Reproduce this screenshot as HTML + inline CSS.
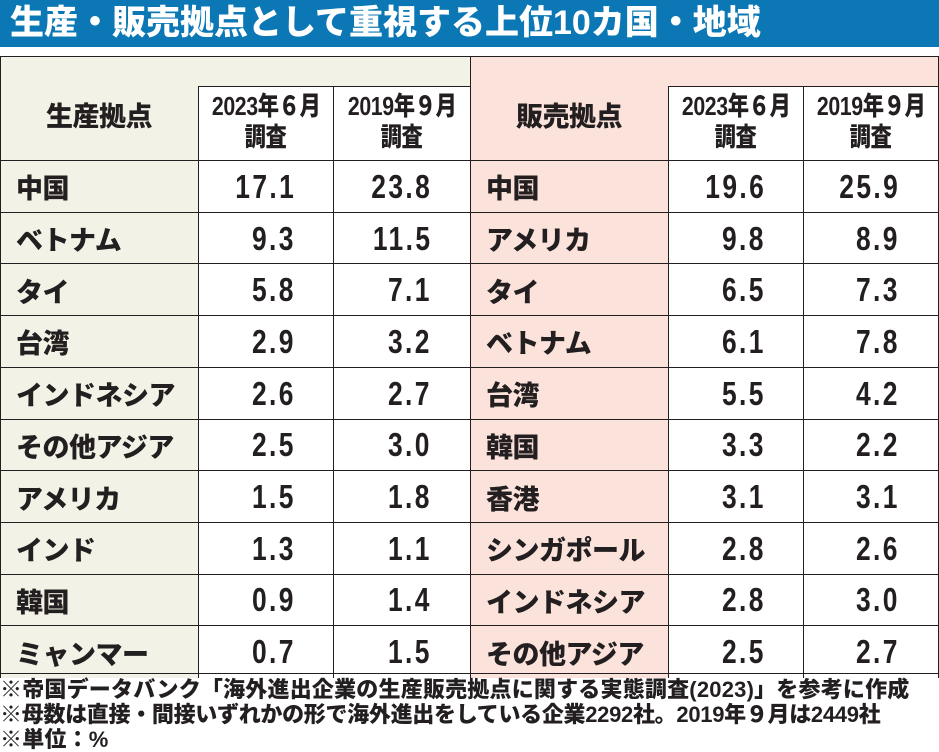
<!DOCTYPE html>
<html><head><meta charset="utf-8"><style>
body{margin:0;width:939px;height:749px;background:#fff;position:relative;overflow:hidden;font-family:"Liberation Sans","Noto Sans CJK JP",sans-serif;font-weight:bold;color:#231f20}
.title{position:absolute;left:0;top:0;width:939px;height:47px;background:#0b78b5;color:#fff;font-size:34px;line-height:47px;padding-left:10px;box-sizing:border-box;font-weight:900;letter-spacing:0px;white-space:nowrap}
.c{position:absolute;box-sizing:border-box}
.lab{font-size:27px;font-weight:900;padding-left:15px;display:flex;align-items:center;white-space:nowrap;letter-spacing:-0.5px}
.num{font-size:33px;display:flex;align-items:center;justify-content:flex-end}
.num span{display:inline-block;transform:scaleX(0.8);transform-origin:right center;letter-spacing:3px}
.hd{font-size:26px;line-height:31px;text-align:center;font-weight:900;white-space:nowrap;overflow:visible}
.hd span{display:inline-block;transform:scaleX(0.82);letter-spacing:-0.5px}
.foot{position:absolute;left:0;font-size:22px;font-weight:900;white-space:nowrap;letter-spacing:0.2px;line-height:25px}
</style></head><body>
<div class="title">生産・販売拠点として重視する上位10カ国・地域</div>
<div id="t"></div>
<div class="foot" style="top:677px">※帝国データバンク「海外進出企業の生産販売拠点に関する実態調査(2023)」を参考に作成</div>
<div class="foot" style="top:702px;letter-spacing:-0.3px">※母数は直接・間接いずれかの形で海外進出をしている企業2292社。2019年９月は2449社</div>
<div class="foot" style="top:727px">※単位：%</div>
<script>
(function(){
const L=[["中国","17.1","23.8"],["ベトナム","9.3","11.5"],["タイ","5.8","7.1"],["台湾","2.9","3.2"],["インドネシア","2.6","2.7"],["その他アジア","2.5","3.0"],["アメリカ","1.5","1.8"],["インド","1.3","1.1"],["韓国","0.9","1.4"],["ミャンマー","0.7","1.5"]];
const R=[["中国","19.6","25.9"],["アメリカ","9.8","8.9"],["タイ","6.5","7.3"],["ベトナム","6.1","7.8"],["台湾","5.5","4.2"],["韓国","3.3","2.2"],["香港","3.1","3.1"],["シンガポール","2.8","2.6"],["インドネシア","2.8","3.0"],["その他アジア","2.5","2.7"]];
let h="";
const T0=56,hh=104,rh=51.7,bd="1.5px solid #231f20";
function blk(x0,bg,name,data,last){
 h+=`<div class="c" style="left:${x0}px;top:${T0}px;width:${last?469:470}px;height:${hh}px;background:${bg};border-top:${bd};border-left:${bd};${last?'border-right:'+bd+';':''}"></div>`;
 h+=`<div class="c lab" style="left:${x0}px;top:${T0}px;width:198px;height:${hh}px;justify-content:center;padding:12px 0 0 0">${name}</div>`;
 for(let k=0;k<2;k++){
  const x=x0+198+(k?135:0),ww=k?(last?136:137):135;
  h+=`<div class="c hd" style="left:${x}px;top:86px;width:${ww}px;height:${hh-30}px;background:#fff;border-left:${bd};border-top:${bd};${k&&last?'border-right:'+bd+';':''}padding-top:4px"><span>${k?'2019年９月':'2023年６月'}</span><br><span>調査</span></div>`;
 }
 data.forEach((d,i)=>{
  const y=T0+hh+i*rh;
  h+=`<div class="c lab" style="left:${x0}px;top:${y}px;width:198px;height:${rh+1}px;background:${bg};border-top:${bd};border-left:${bd}">${d[0]}</div>`;
  h+=`<div class="c num" style="left:${x0+198}px;top:${y}px;width:135px;height:${rh+1}px;border-top:${bd};border-left:${bd};padding-right:37px"><span>${d[1]}</span></div>`;
  h+=`<div class="c num" style="left:${x0+333}px;top:${y}px;width:${last?136:137}px;height:${rh+1}px;border-top:${bd};border-left:${bd};${last?'border-right:'+bd+';':''}padding-right:38px"><span>${d[2]}</span></div>`;
 });
}
blk(0,"#f3f2e6","生産拠点",L,false);
blk(470,"#fbe3dc","販売拠点",R,true);
h+=`<div class="c" style="left:0;top:673px;width:939px;height:0;border-top:${bd}"></div>`;
document.getElementById("t").innerHTML=h;
})();
</script>
</body></html>
